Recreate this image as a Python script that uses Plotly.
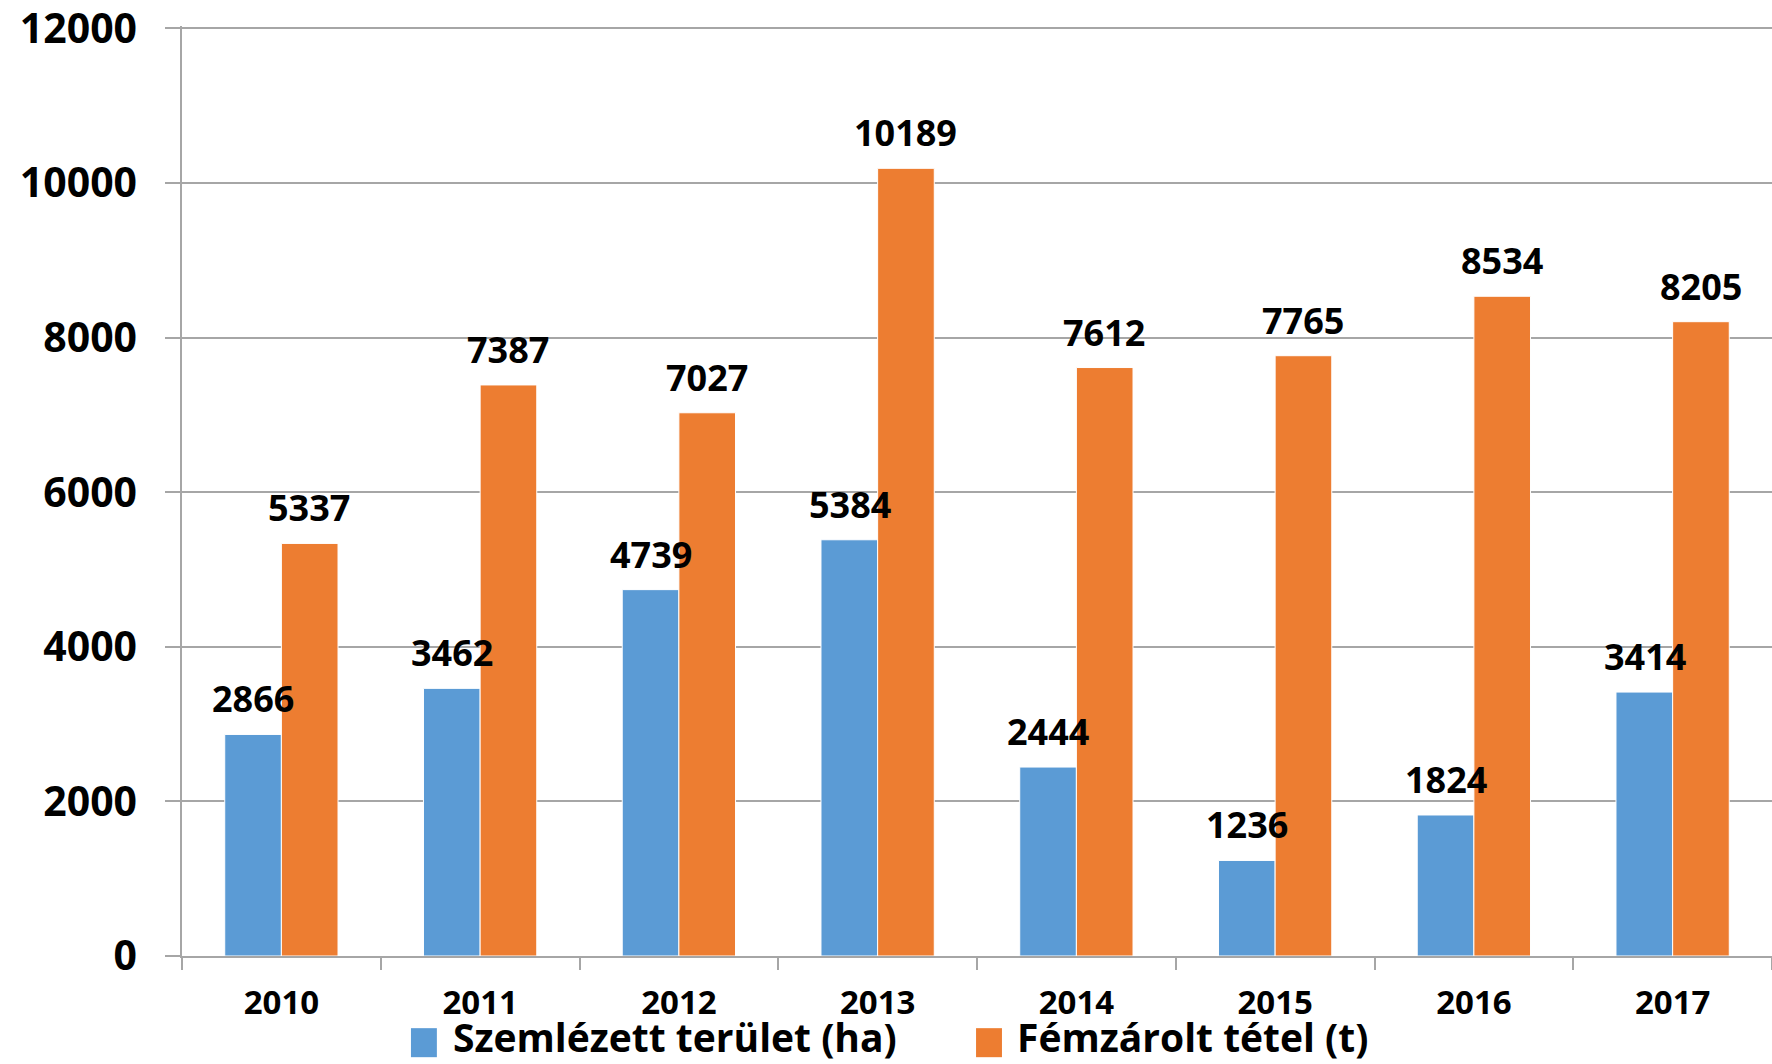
import plotly.graph_objects as go

years = ["2010", "2011", "2012", "2013", "2014", "2015", "2016", "2017"]
szemlezett = [2866, 3462, 4739, 5384, 2444, 1236, 1824, 3414]
femzarolt = [5337, 7387, 7027, 10189, 7612, 7765, 8534, 8205]
series_names = ["Szemlézett terület (ha)", "Fémzárolt tétel (t)"]

BLUE = "#5B9BD5"
ORANGE = "#ED7D31"
GRID = "#a6a6a6"
FONT = "Open Sans"

fig = go.Figure()
fig.add_trace(go.Bar(
    x=years, y=szemlezett, name=series_names[0], showlegend=False,
    marker=dict(color=BLUE, line=dict(color="white", width=1)),
))
fig.add_trace(go.Bar(
    x=years, y=femzarolt, name=series_names[1], showlegend=False,
    marker=dict(color=ORANGE, line=dict(color="white", width=1)),
))

# value labels above each bar (x as category index so "2010" isn't read as a number)
for series, shift in ((szemlezett, -28), (femzarolt, 28)):
    for i, val in enumerate(series):
        fig.add_annotation(
            x=i, y=val, text=str(val), showarrow=False,
            xshift=shift, yshift=9, yanchor="bottom",
            font=dict(family=FONT, size=36, color="black", weight="bold"),
        )

# legend: big Excel-style swatches (shapes) + text
legend_keys = [(series_names[0], BLUE, 0.144, 0.169), (series_names[1], ORANGE, 0.4994, 0.524)]
for name, colour, x0, xtext in legend_keys:
    fig.add_shape(
        type="rect", xref="paper", yref="paper",
        x0=x0, x1=x0 + 0.0163, y0=-0.1088, y1=-0.0776,
        fillcolor=colour, line_width=0,
    )
    fig.add_annotation(
        xref="paper", yref="paper", x=xtext, y=-0.0862,
        xanchor="left", yanchor="middle", showarrow=False,
        text=name,
        font=dict(family=FONT, size=39, color="black", weight="bold"),
    )

fig.update_layout(
    width=1772, height=1064,
    margin=dict(l=182, r=0, t=26, b=108),
    plot_bgcolor="white", paper_bgcolor="white",
    barmode="group", bargap=0.43, bargroupgap=0,
    showlegend=False,
    xaxis=dict(
        type="category", range=[-0.5, 7.5],
        showline=True, linecolor=GRID, linewidth=1.5,
        ticks="outside", tickson="boundaries", ticklen=12, tickcolor=GRID, tickwidth=1.5,
        ticklabelstandoff=17,
        tickfont=dict(family=FONT, size=33, color="black", weight="bold"),
        showgrid=False,
    ),
    yaxis=dict(
        range=[0, 12030], tick0=0, dtick=2000, tickformat="d",
        showline=True, linecolor=GRID, linewidth=1.5,
        showgrid=True, gridcolor=GRID, gridwidth=1.5,
        zeroline=False,
        ticks="outside", ticklen=15, tickcolor=GRID, tickwidth=1.5,
        ticklabelstandoff=20, ticklabeloverflow="allow",
        tickfont=dict(family=FONT, size=41, color="black", weight="bold"),
    ),
)

fig.write_html(
    "out.html",
    config={"displayModeBar": False},
    post_script="document.body.style.margin='0px';",
)
